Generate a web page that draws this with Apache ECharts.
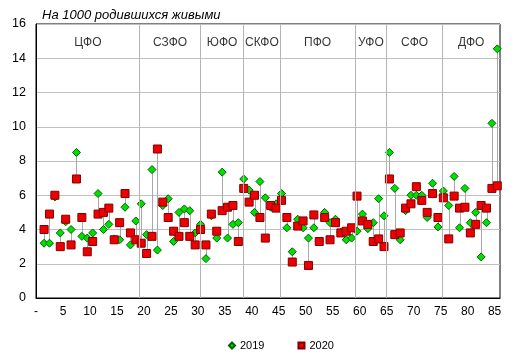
<!DOCTYPE html>
<html>
<head>
<meta charset="utf-8">
<script src="https://cdn.jsdelivr.net/npm/echarts@6/dist/echarts.min.js"></script>
<style>
html,body{margin:0;padding:0;background:#fff;}
#c{width:516px;height:361px;}
</style>
</head>
<body>
<div id="c"></div>
<script>
const titleText = 'На 1000 родившихся живыми';
const seriesNames = ['2019', '2020'];
const values2019 = [3.2, 3.2, 5.9, 3.8, 4.45, 4.0, 8.5, 3.6, 3.5, 3.8,
  6.1, 4.0, 4.3, 3.45, 3.4, 5.3, 3.1, 4.5, 5.5, 3.7,
  7.5, 2.8, 5.4, 5.8, 3.3, 5.0, 5.2, 5.1, 3.8, 4.3,
  2.3, 4.8, 3.5, 7.35, 3.5, 4.3, 4.4, 6.95, 6.3, 5.0,
  6.8, 5.85, 5.3, 5.5, 6.1, 4.1, 2.7, 4.6, 4.1, 3.5,
  4.1, 3.3, 5.0, 4.4, 4.6, 3.85, 3.4, 3.5, 3.9, 4.9,
  4.05, 4.4, 5.8, 4.8, 8.5, 6.4, 3.4, 5.1, 6.0, 6.0,
  6.0, 4.7, 6.7, 4.15, 6.25, 5.4, 7.1, 4.1, 6.4, 4.4,
  5.0, 2.4, 4.4, 10.2, 14.55];
const values2020 = [4.0, 4.9, 6.0, 3.0, 4.6, 3.1, 6.95, 4.7, 2.7, 3.3,
  4.9, 5.0, 5.25, 3.4, 4.4, 6.1, 3.8, 3.4, 3.2, 2.6,
  3.6, 8.7, 5.6, 4.7, 3.9, 3.6, 4.4, 3.6, 3.1, 4.0,
  3.1, 4.9, 3.9, 5.1, 5.3, 5.4, 3.3, 6.4, 5.6, 6.0,
  4.7, 3.5, 5.4, 5.25, 5.7, 4.7, 2.1, 4.2, 4.5, 1.9,
  4.85, 3.3, 4.7, 3.4, 4.4, 3.8, 3.9, 4.1, 5.95, 4.5,
  4.3, 3.3, 3.45, 3.0, 6.95, 3.7, 3.8, 5.25, 5.5, 6.5,
  5.7, 5.0, 6.1, 4.7, 5.85, 3.45, 5.95, 5.25, 5.3, 3.8,
  4.3, 5.4, 5.25, 6.4, 6.55];
const regionNumbers = values2019.map((v, k) => k + 1);
const districtNames = ['ЦФО', 'СЗФО', 'ЮФО', 'СКФО', 'ПФО', 'УФО', 'СФО', 'ДФО'];
const districtBounds = [-0.5, 18.7, 30.0, 38.0, 44.75, 58.65, 64.5, 74.85, 85.5];
const xTickValues = [-0.5, 4.5, 9.5, 14.5, 19.5, 24.5, 29.5, 34.5, 39.5, 44.5, 49.5, 54.5, 59.5, 64.5, 69.5, 74.5, 79.5, 84.5];
const xTickLabels = ['-', '5', '10', '15', '20', '25', '30', '35', '40', '45', '50', '55', '60', '65', '70', '75', '80', '85'];
const districtLabelLevel = 14.88;

const font = 'Liberation Sans, Arial, sans-serif';
const chart = echarts.init(document.getElementById('c'), null, {renderer: 'canvas'});

const pairData = regionNumbers.map((n, k) => [n, values2019[k], values2020[k]]);
const districtLabelData = districtNames.map((name, k) => ({
  name: name,
  value: [(districtBounds[k] + districtBounds[k + 1]) / 2, districtLabelLevel]
}));
const separatorLines = districtBounds.slice(1, -1).map(x => ({xAxis: x}));

chart.setOption({
  animation: false,
  backgroundColor: '#fff',
  textStyle: {fontFamily: font},
  title: {
    text: titleText,
    left: 37, top: 4,
    textStyle: {fontFamily: font, fontSize: 13, fontStyle: 'italic', fontWeight: 'normal', color: '#000'}
  },
  grid: {left: 36, right: 16, top: 24, bottom: 63, show: true, borderColor: '#000', borderWidth: 1, backgroundColor: 'transparent'},
  legend: {
    data: seriesNames,
    left: 223, top: 335,
    itemWidth: 6, itemHeight: 6, itemGap: 33,
    textStyle: {fontFamily: font, fontSize: 11, color: '#000'}
  },
  xAxis: {
    type: 'value', min: -0.5, max: 85.5,
    axisLine: {show: true, onZero: false, lineStyle: {color: '#000', width: 1}},
    axisTick: {show: false},
    splitLine: {show: false},
    axisLabel: {
      customValues: xTickValues,
      formatter: function (v) {
        const k = xTickValues.findIndex(t => Math.abs(t - v) < 1e-6);
        return k >= 0 ? xTickLabels[k] : '';
      },
      color: '#000', fontSize: 12, fontFamily: font, margin: 8
    }
  },
  yAxis: {
    type: 'value', min: 0, max: 16, interval: 2,
    axisLine: {show: true, onZero: false, lineStyle: {color: '#000', width: 1}},
    axisTick: {show: false},
    splitLine: {show: true, lineStyle: {color: '#c0c0c0', width: 1}},
    axisLabel: {color: '#000', fontSize: 12.5, fontFamily: font, margin: 10}
  },
  series: [
    {
      name: 'districts',
      type: 'scatter',
      z: 1,
      silent: true,
      symbolSize: 0,
      data: districtLabelData,
      label: {show: true, position: 'inside', formatter: '{b}', color: '#000', fontSize: 12, fontFamily: font},
      markLine: {
        silent: true, symbol: 'none', animation: false,
        label: {show: false},
        lineStyle: {color: '#b4b4b4', width: 1, type: 'solid'},
        emphasis: {disabled: true},
        data: separatorLines
      }
    },
    {
      name: 'links',
      type: 'custom',
      z: 2,
      silent: true,
      data: pairData,
      encode: {x: 0, y: [1, 2]},
      renderItem: function (params, api) {
        const a = api.coord([api.value(0), api.value(1)]);
        const b = api.coord([api.value(0), api.value(2)]);
        const x = Math.round(a[0]) + 0.5;
        return {type: 'line', shape: {x1: x, y1: a[1], x2: x, y2: b[1]}, style: {stroke: '#a8a8a8', lineWidth: 1}};
      }
    },
    {
      name: '2019',
      type: 'scatter',
      z: 3,
      symbol: 'diamond',
      symbolSize: 8,
      data: regionNumbers.map((n, k) => [n, values2019[k]]),
      itemStyle: {color: '#00e000', borderColor: '#006400', borderWidth: 1, opacity: 1}
    },
    {
      name: '2020',
      type: 'scatter',
      z: 4,
      symbol: 'rect',
      symbolSize: 8,
      data: regionNumbers.map((n, k) => [n, values2020[k]]),
      itemStyle: {color: '#ee0000', borderColor: '#800000', borderWidth: 1, opacity: 1}
    }
  ]
});
</script>
</body>
</html>
